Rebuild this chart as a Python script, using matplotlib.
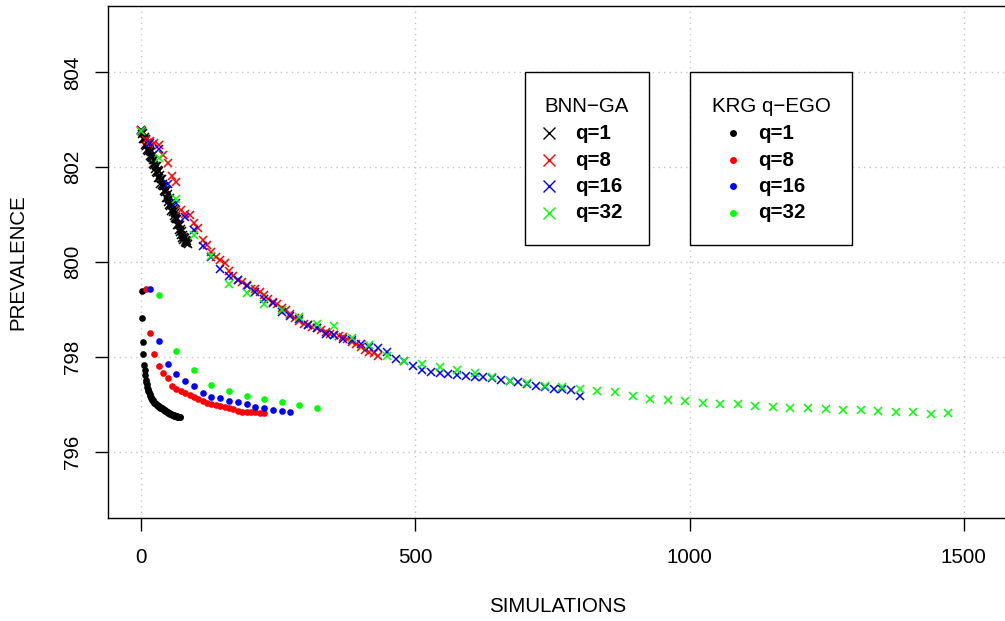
import matplotlib.pyplot as plt
from matplotlib.patches import Rectangle

plt.rcParams['font.family'] = ['Liberation Sans', 'DejaVu Sans']

# --- data ---

# BNN-GA, q=1 (one simulation per step)
bnn_q1_x = [0, 1, 2, 3, 4, 5, 6, 7, 8, 9, 10, 11, 12, 13, 14, 15, 16, 17, 18, 19,
            20, 21, 22, 23, 24, 25, 26, 27, 28, 29, 30, 31, 32, 33, 34, 35, 36, 37, 38, 39,
            40, 41, 42, 43, 44, 45, 46, 47, 48, 49, 50, 51, 52, 53, 54, 55, 56, 57, 58, 59,
            60, 61, 62, 63, 64, 65, 66, 67, 68, 69, 70, 71, 72, 73, 74, 75, 76, 77, 78, 79,
            80, 81, 82, 83, 84, 85]
bnn_q1_y = [802.78, 802.69, 802.76, 802.60, 802.72, 802.59, 802.64, 802.47, 802.60, 802.45,
            802.50, 802.36, 802.50, 802.35, 802.41, 802.23, 802.34, 802.21, 802.32, 802.19,
            802.24, 802.07, 802.15, 802.04, 802.15, 801.96, 802.03, 801.89, 802.02, 801.88,
            801.94, 801.78, 801.91, 801.77, 801.83, 801.65, 801.76, 801.63, 801.75, 801.61,
            801.65, 801.49, 801.61, 801.47, 801.51, 801.36, 801.51, 801.35, 801.43, 801.27,
            801.33, 801.20, 801.34, 801.19, 801.24, 801.07, 801.21, 801.06, 801.12, 800.97,
            801.08, 800.93, 801.04, 800.91, 800.95, 800.78, 800.91, 800.77, 800.81, 800.67,
            800.78, 800.64, 800.70, 800.56, 800.65, 800.51, 800.57, 800.46, 800.53, 800.43,
            800.50, 800.41, 800.47, 800.40, 800.44, 800.38]

# BNN-GA, q=8
bnn_q8_x = [0, 8, 16, 24, 32, 40, 48, 56, 64, 72, 80, 88, 96, 104, 112, 120, 128, 136, 144, 152,
            160, 168, 176, 184, 192, 200, 208, 216, 224, 232, 240, 248, 256, 264, 272, 280, 288,
            296, 304, 312, 320, 328, 336, 344, 352, 360, 368, 376, 384, 392, 400, 408, 416, 424, 432]
bnn_q8_y = [802.78, 802.58, 802.55, 802.50, 802.46, 802.25, 802.08, 801.81, 801.69, 801.09,
            801.02, 800.99, 800.82, 800.71, 800.46, 800.35, 800.21, 800.11, 800.04, 799.98,
            799.81, 799.70, 799.63, 799.58, 799.51, 799.44, 799.42, 799.37, 799.30, 799.23,
            799.16, 799.11, 799.04, 798.98, 798.90, 798.81, 798.76, 798.70, 798.67, 798.62,
            798.60, 798.56, 798.53, 798.49, 798.46, 798.44, 798.41, 798.37, 798.32, 798.27,
            798.21, 798.14, 798.11, 798.07, 798.02]

# BNN-GA, q=16
bnn_q16_x = [0, 16, 32, 48, 64, 80, 96, 112, 128, 144, 160, 176, 192, 208, 224, 240, 256,
             272, 288, 304, 320, 336, 352, 368, 384, 400, 416, 432, 448, 464, 480, 496, 512,
             528, 544, 560, 576, 592, 608, 624, 640, 656, 672, 688, 704, 720, 736, 752, 768,
             784, 800]
bnn_q16_y = [802.76, 802.51, 802.39, 801.64, 801.25, 800.95, 800.68, 800.34, 800.11, 799.85,
             799.70, 799.62, 799.49, 799.37, 799.21, 799.14, 798.95, 798.86, 798.79, 798.67,
             798.60, 798.49, 798.46, 798.37, 798.35, 798.27, 798.21, 798.18, 798.11, 797.95,
             797.92, 797.80, 797.73, 797.67, 797.65, 797.63, 797.61, 797.60, 797.58, 797.57,
             797.55, 797.52, 797.50, 797.47, 797.43, 797.38, 797.36, 797.33, 797.33, 797.31,
             797.17]

# BNN-GA, q=32
bnn_q32_x = [0, 32, 64, 96, 128, 160, 192, 224, 256, 288, 320, 352, 384, 416, 448, 480, 512,
             544, 576, 608, 640, 672, 704, 736, 768, 800, 832, 864, 896, 928, 960, 992, 1024,
             1056, 1088, 1120, 1152, 1184, 1216, 1248, 1280, 1312, 1344, 1376, 1408, 1440, 1472]
bnn_q32_y = [802.76, 802.20, 801.32, 800.57, 800.12, 799.53, 799.34, 799.11, 798.98, 798.84,
             798.70, 798.65, 798.39, 798.25, 798.02, 797.92, 797.85, 797.79, 797.72, 797.65,
             797.57, 797.49, 797.44, 797.38, 797.36, 797.33, 797.28, 797.26, 797.17, 797.12,
             797.09, 797.07, 797.02, 797.00, 797.00, 796.96, 796.95, 796.93, 796.91, 796.90,
             796.88, 796.88, 796.86, 796.83, 796.83, 796.79, 796.81]

# KRG q-EGO, q=1
krg_q1_x = [1, 2, 3, 4, 5, 6, 7, 8, 9, 10, 11, 12, 13, 14, 15, 16, 17, 18, 19, 20,
            21, 22, 23, 24, 25, 26, 27, 28, 29, 30, 31, 32, 33, 34, 35, 36, 37, 38, 39, 40,
            41, 42, 43, 44, 45, 46, 47, 48, 49, 50, 51, 52, 53, 54, 55, 56, 57, 58, 59, 60,
            61, 62, 63, 64, 65, 66, 67, 68, 69, 70, 71]
krg_q1_y = [799.38, 798.82, 798.32, 798.06, 797.83, 797.73, 797.61, 797.52, 797.47, 797.42,
            797.37, 797.32, 797.28, 797.25, 797.21, 797.18, 797.16, 797.13, 797.11, 797.09,
            797.08, 797.06, 797.05, 797.03, 797.02, 797.01, 797.00, 796.99, 796.98, 796.97,
            796.96, 796.96, 796.95, 796.94, 796.93, 796.92, 796.91, 796.91, 796.90, 796.89,
            796.88, 796.87, 796.87, 796.86, 796.85, 796.84, 796.84, 796.83, 796.82, 796.82,
            796.81, 796.80, 796.80, 796.79, 796.79, 796.78, 796.78, 796.77, 796.77, 796.76,
            796.76, 796.76, 796.75, 796.75, 796.75, 796.74, 796.74, 796.74, 796.73, 796.73,
            796.72]

# KRG q-EGO, q=8
krg_q8_x = [8, 16, 24, 32, 40, 48, 56, 64, 72, 80, 88, 96, 104, 112, 120, 128, 136, 144,
            152, 160, 168, 176, 184, 192, 200, 208, 216, 224]
krg_q8_y = [799.43, 798.51, 798.05, 797.80, 797.66, 797.55, 797.39, 797.32, 797.28, 797.24,
            797.20, 797.16, 797.11, 797.07, 797.03, 797.00, 796.98, 796.96, 796.94, 796.92,
            796.89, 796.86, 796.84, 796.83, 796.83, 796.83, 796.82, 796.82]

# KRG q-EGO, q=16
krg_q16_x = [16, 32, 48, 64, 80, 96, 112, 128, 144, 160, 176, 192, 208, 224, 240, 256, 272]
krg_q16_y = [799.42, 798.34, 797.85, 797.64, 797.48, 797.39, 797.24, 797.16, 797.13, 797.07,
             797.04, 797.00, 796.95, 796.91, 796.88, 796.85, 796.83]

# KRG q-EGO, q=32
krg_q32_x = [32, 64, 96, 128, 160, 192, 224, 256, 288, 320]
krg_q32_y = [799.30, 798.12, 797.73, 797.40, 797.28, 797.17, 797.12, 797.05, 796.98, 796.93]

q_labels = ['q=1', 'q=8', 'q=16', 'q=32']
colors = ['black', 'red', 'blue', '#00FF00']

bnn_series = [(bnn_q1_x, bnn_q1_y), (bnn_q8_x, bnn_q8_y),
              (bnn_q16_x, bnn_q16_y), (bnn_q32_x, bnn_q32_y)]
krg_series = [(krg_q1_x, krg_q1_y), (krg_q8_x, krg_q8_y),
              (krg_q16_x, krg_q16_y), (krg_q32_x, krg_q32_y)]

# --- figure, laid out like the R device ---
W, H = 1005, 621
fig = plt.figure(figsize=(W / 100, H / 100), dpi=100)
ax = fig.add_axes([108 / W, 1 - 518 / H, 900 / W, 512 / H])

FS = 14.8

for (xs, ys), c in zip(bnn_series, colors):
    ax.plot(xs, ys, linestyle='none', marker='x', ms=5.5, mew=1.1, color=c, zorder=3)
for (xs, ys), c in zip(krg_series, colors):
    ax.plot(xs, ys, linestyle='none', marker='o', ms=4.8, mew=0, color=c, zorder=3)

ax.set_xlim(-60.7, 1580.8)
ax.set_ylim(794.6, 805.4)
ax.set_xticks([0, 500, 1000, 1500])
ax.set_yticks([796, 798, 800, 802, 804])
ax.grid(True, color='#C4C4C4', linestyle=(0, (1, 3)), linewidth=1.0)
ax.set_axisbelow(True)

for sp in ax.spines.values():
    sp.set_linewidth(1.0)
ax.tick_params(axis='both', direction='out', length=9.4, width=1.0, labelsize=FS)
ax.tick_params(axis='x', pad=12)
ax.tick_params(axis='y', pad=9.5)
for lab in ax.get_yticklabels():
    lab.set_rotation(90)
    lab.set_va('center')

fig.text(558 / W, 1 - 607 / H, 'SIMULATIONS', ha='center', va='center', fontsize=FS)
fig.text(18 / W, 1 - 262 / H, 'PREVALENCE', ha='center', va='center',
         rotation=90, fontsize=FS)

# --- legends, drawn in pixel coordinates on an overlay ---
lax = fig.add_axes([0, 0, 1, 1], zorder=5)
lax.set_xlim(0, W)
lax.set_ylim(H, 0)
lax.axis('off')

row_base = [139, 165.5, 192, 218.5]
boxes = [
    ('BNN\u2212GA', 525, 649, 587, 549, 575, 'x'),
    ('KRG q\u2212EGO', 690, 852, 771, 733, 758, 'o'),
]
for title, x0, x1, tx, mx, lx, mk in boxes:
    lax.add_patch(Rectangle((x0, 72), x1 - x0, 173, facecolor='white',
                            edgecolor='black', linewidth=1.0))
    lax.text(tx, 112, title, ha='center', va='baseline', fontsize=FS)
    for lbl, c, yb in zip(q_labels, colors, row_base):
        if mk == 'x':
            lax.plot([mx], [yb - 6], marker='x', ms=8, mew=1.0, color=c, linestyle='none')
        else:
            lax.plot([mx], [yb - 6], marker='o', ms=5, mew=0, color=c, linestyle='none')
        lax.text(lx, yb, lbl, ha='left', va='baseline', fontsize=FS, fontweight='bold')

fig.savefig('out.png', dpi=100)
